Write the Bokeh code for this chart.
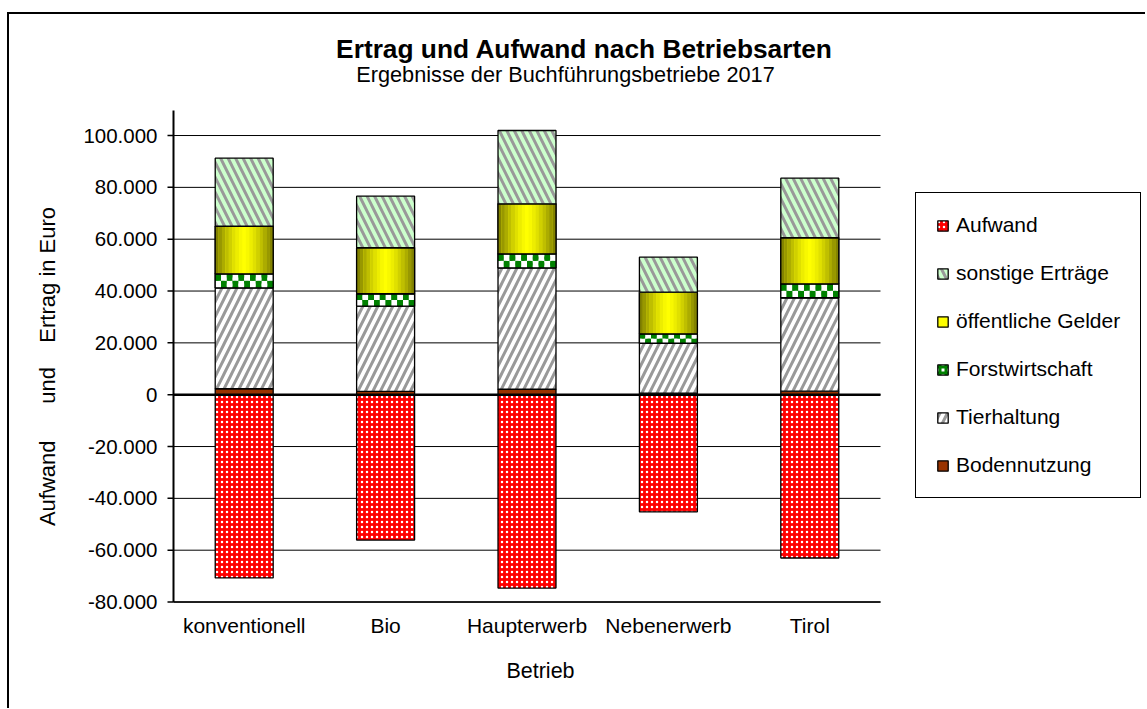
import math
import numpy as np
from bokeh.plotting import figure
from bokeh.models import Range1d, Legend, LegendItem, ColumnDataSource, InlineStyleSheet
from bokeh.core.properties import value
from bokeh.embed import file_html
from bokeh.resources import INLINE

# ---------------- data ----------------
categories = ["konventionell", "Bio", "Haupterwerb", "Nebenerwerb", "Tirol"]
bodennutzung = [2300, 1250, 2100, 600, 1350]
tierhaltung = [38950, 32900, 46850, 19250, 36050]
forstwirtschaft = [5400, 4800, 5400, 3650, 5400]
oeffentliche_gelder = [18350, 17750, 19300, 16050, 17750]
sonstige_ertraege = [26250, 19900, 28300, 13500, 23000]
aufwand = [-70700, -56100, -74600, -45200, -63000]

y_ticks = [-80000, -60000, -40000, -20000, 0, 20000, 40000, 60000, 80000, 100000]
y_tick_labels = ["-80.000", "-60.000", "-40.000", "-20.000", "0", "20.000",
                 "40.000", "60.000", "80.000", "100.000"]

title_text = "Ertrag und Aufwand nach Betriebsarten"
subtitle_text = "Ergebnisse der Buchführungsbetriebe 2017"
x_label = "Betrieb"
y_label = "Aufwand \u00a0 \u00a0 \u00a0und \u00a0 \u00a0Ertrag in Euro"

# ---------------- layout (pixel geometry of the page) ----------------
CX0, CY0 = 9, 14            # page position of the drawing area
FW, FH = 1136, 694          # size of the drawing area
X0_PX, CAT_PX = 173, 141.4  # page x of the value axis, width of one category slot
Y0_PX, K = 394.2, 0.0025917  # page y of value 0, pixels per Euro


def px2x(px):
    return (px - X0_PX) / CAT_PX


def py2y(py):
    return (Y0_PX - py) / K


# ---------------- stacking ----------------
ncat = len(categories)
xc = np.arange(ncat) + 0.5
layers = [bodennutzung, tierhaltung, forstwirtschaft, oeffentliche_gelder, sonstige_ertraege]
names = ["boden", "tier", "forst", "oeff", "sonst"]
cum = np.zeros(ncat)
data = dict(x=xc, aufwand=aufwand, zero=[0] * ncat)
for n, vals in zip(names, layers):
    data[n + "_b"] = cum.copy()
    cum = cum + np.array(vals, dtype=float)
    data[n + "_t"] = cum.copy()
src = ColumnDataSource(data)

FONT = "Liberation Sans"
BW = 0.41

sheet = InlineStyleSheet(css=":host { border-left: 2px solid #000; border-top: 2px solid #000; "
                             "margin-top: 12px; margin-left: 7px; }")

p = figure(x_range=Range1d(px2x(CX0), px2x(CX0 + FW)),
           y_range=Range1d(py2y(CY0 + FH), py2y(CY0)),
           frame_width=FW, frame_height=FH,
           min_border_left=0, min_border_right=0, min_border_top=0, min_border_bottom=0,
           x_axis_location=None, y_axis_location=None,
           output_backend="svg", toolbar_location=None, title=None,
           stylesheets=[sheet])
p.outline_line_color = None
p.background_fill_color = "white"
p.border_fill_color = "white"
p.grid.visible = False

# horizontal grid lines, limited to the category area
p.segment(x0=0, x1=ncat, y0=y_ticks, y1=y_ticks, line_color="black", line_width=1)

LW = 1.3
# Aufwand
r_auf = p.vbar(x="x", top="zero", bottom="aufwand", width=BW, source=src,
               fill_color="#FF0000", line_color="black", line_width=LW,
               hatch_pattern=".", hatch_color="white", hatch_scale=5, hatch_weight=1)
# Bodennutzung
r_boden = p.vbar(x="x", top="boden_t", bottom="boden_b", width=BW, source=src,
                 fill_color="#993300", line_color="black", line_width=LW)
# Tierhaltung
r_tier = p.vbar(x="x", top="tier_t", bottom="tier_b", width=BW, source=src,
                fill_color="white", line_color="black", line_width=LW,
                hatch_pattern="/", hatch_color="#999999", hatch_scale=15, hatch_weight=3)
# Forstwirtschaft: white/green checker (2 rows x 10 columns per bar)
r_forst = p.vbar(x="x", top="forst_t", bottom="forst_b", width=BW, source=src,
                 fill_color="white", line_color="black", line_width=LW,
                 hatch_pattern="+", hatch_color="#008000", hatch_scale=6, hatch_weight=3)
NCOL, NROW = 10, 2
ql, qr, qb, qt, qc = [], [], [], [], []
for i in range(ncat):
    b = src.data["forst_b"][i]
    t = src.data["forst_t"][i]
    rh = (t - b) / NROW
    cw = BW / NCOL
    for r in range(NROW):
        for c in range(NCOL):
            ql.append(xc[i] - BW / 2 + c * cw)
            qr.append(xc[i] - BW / 2 + (c + 1) * cw)
            qb.append(b + r * rh)
            qt.append(b + (r + 1) * rh)
            qc.append("#008000" if (r + c) % 2 == 1 else "white")
p.quad(left=ql, right=qr, bottom=qb, top=qt, fill_color=qc, line_color=None)
p.vbar(x="x", top="forst_t", bottom="forst_b", width=BW, source=src,
       fill_color=None, line_color="black", line_width=LW)

# öffentliche Gelder (horizontal gradient by strips)
r_oeff = p.vbar(x="x", top="oeff_t", bottom="oeff_b", width=BW, source=src,
                fill_color="#FFFF00", line_color="black", line_width=LW)
NS = 17
sw = BW / NS
for k in range(NS):
    off = -BW / 2 + (k + 0.5) * sw
    tt = (abs(off) / (BW / 2)) ** 1.4
    rr = int(round(255 + (120 - 255) * tt))
    col = "#%02x%02x00" % (rr, rr)
    p.vbar(x=xc + off, top=src.data["oeff_t"], bottom=src.data["oeff_b"],
           width=sw * 1.05, fill_color=col, line_color=None)
p.vbar(x="x", top="oeff_t", bottom="oeff_b", width=BW, source=src,
       fill_color=None, line_color="black", line_width=LW)
# sonstige Erträge
r_sonst = p.vbar(x="x", top="sonst_t", bottom="sonst_b", width=BW, source=src,
                 fill_color="#CCFFCC", line_color="black", line_width=LW,
                 hatch_pattern="\\", hatch_color="#999999", hatch_scale=15, hatch_weight=3)

# zero line
p.segment(x0=0, x1=ncat, y0=0, y1=0, line_color="black", line_width=2.5)

# ---------------- axes (drawn by hand) ----------------
p.segment(x0=0, x1=0, y0=y_ticks[0], y1=py2y(110), line_color="black", line_width=2)
p.segment(x0=px2x(X0_PX - 6), x1=0, y0=y_ticks, y1=y_ticks, line_color="black", line_width=1.5)
p.text(x=px2x(X0_PX - 16), y=y_ticks, text=y_tick_labels,
       text_font=value(FONT), text_font_size="20.5px", text_color="black",
       text_align="right", text_baseline="middle")
p.segment(x0=0, x1=ncat, y0=y_ticks[0], y1=y_ticks[0], line_color="black", line_width=1.5)
p.text(x=xc, y=y_ticks[0], text=categories, y_offset=23,
       text_font=value(FONT), text_font_size="21px", text_color="black",
       text_align="center", text_baseline="middle")
p.text(x=[px2x(540)], y=[py2y(670)], text=[x_label],
       text_font=value(FONT), text_font_size="21.5px", text_color="black",
       text_align="center", text_baseline="middle")
p.text(x=[px2x(47)], y=[py2y(366)], text=[y_label], angle=math.pi / 2,
       text_font=value(FONT), text_font_size="22px", text_color="black",
       text_align="center", text_baseline="middle")
# chart titles
p.text(x=[px2x(584)], y=[py2y(48)], text=[title_text],
       text_font=value(FONT), text_font_size="26.3px", text_font_style="bold",
       text_color="black", text_align="center", text_baseline="middle")
p.text(x=[px2x(565)], y=[py2y(74)], text=[subtitle_text],
       text_font=value(FONT), text_font_size="21.7px", text_color="black",
       text_align="center", text_baseline="middle")

# ---------------- legend ----------------
legend = Legend(items=[
    LegendItem(label="Aufwand", renderers=[r_auf]),
    LegendItem(label="sonstige Erträge", renderers=[r_sonst]),
    LegendItem(label="öffentliche Gelder", renderers=[r_oeff]),
    LegendItem(label="Forstwirtschaft", renderers=[r_forst]),
    LegendItem(label="Tierhaltung", renderers=[r_tier]),
    LegendItem(label="Bodennutzung", renderers=[r_boden]),
], location=(915 - CX0, CY0 + FH - 498))
legend.border_line_color = "black"
legend.border_line_alpha = 1
legend.border_line_width = 1.5
legend.background_fill_color = "white"
legend.background_fill_alpha = 1
legend.padding = 20
legend.spacing = 24
legend.margin = 0
legend.label_text_font = FONT
legend.label_text_font_size = "21px"
legend.label_text_color = "black"
legend.label_height = 20
legend.glyph_width = 13
legend.glyph_height = 13
legend.label_standoff = 7
p.add_layout(legend)

open("out.html", "w").write(file_html(p, INLINE))
